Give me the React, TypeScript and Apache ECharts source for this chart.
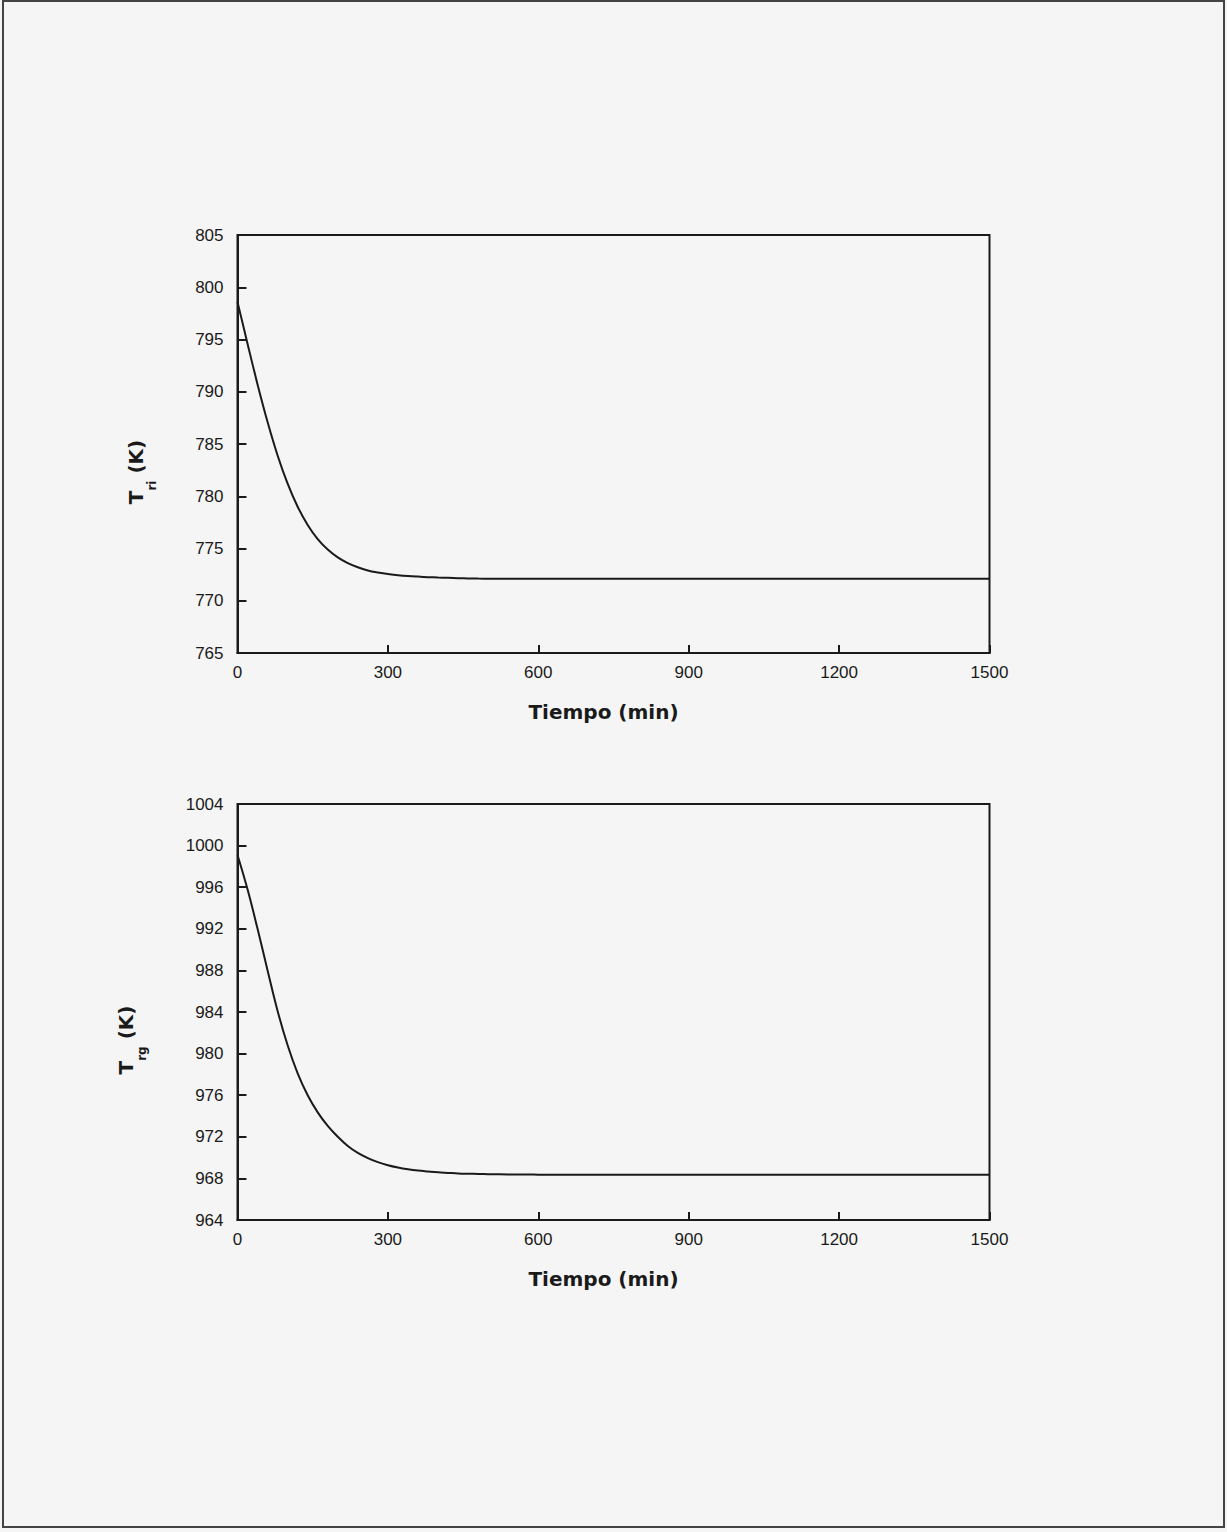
import React, { useEffect, useRef } from "react";
import * as echarts from "echarts";

// Time (min)
const timeMin = [
  0, 20, 40, 60, 80, 100, 120, 140, 160, 180, 200, 220, 240, 260, 280, 300,
  320, 340, 360, 380, 400, 420, 440, 460, 480, 500, 520, 540, 560, 580, 600,
  700, 800, 900, 1000, 1100, 1200, 1300, 1400, 1500,
];

// Riser temperature T_ri (K)
const tRiser = [
  798.6, 794.6, 790.7, 787.1, 783.9, 781.2, 779.0, 777.25, 775.9, 774.9, 774.15,
  773.6, 773.2, 772.9, 772.7, 772.55, 772.45, 772.37, 772.31, 772.26, 772.22,
  772.19, 772.16, 772.14, 772.12, 772.11, 772.1, 772.1, 772.1, 772.1, 772.1,
  772.1, 772.1, 772.1, 772.1, 772.1, 772.1, 772.1, 772.1, 772.1,
];

// Regenerator temperature T_rg (K)
const tRegen = [
  999.1, 995.8, 992.0, 988.0, 984.1, 980.8, 978.1, 976.0, 974.35, 973.05, 972.0,
  971.12, 970.45, 969.95, 969.56, 969.27, 969.05, 968.88, 968.75, 968.66, 968.58,
  968.53, 968.48, 968.45, 968.43, 968.41, 968.39, 968.38, 968.38, 968.37, 968.36,
  968.35, 968.35, 968.35, 968.35, 968.35, 968.35, 968.35, 968.35, 968.35,
];

const xTitle = "Tiempo (min)";
const y1Title = "{t|T}{s|ri}{t| (K)}";
const y2Title = "{t|T}{s|rg}{t| (K)}";

const INK = "#1a1a1a";
const TICK_FONT = "Liberation Sans";
const NAME_FONT = "DejaVu Sans";

const plain = (v: number) => String(v);

function xAxisFor(gridIndex: number) {
  return {
    gridIndex,
    type: "value",
    min: 0,
    max: 1500,
    interval: 300,
    name: xTitle,
    nameLocation: "middle",
    nameGap: 49,
    nameTextStyle: {
      fontFamily: NAME_FONT,
      fontWeight: "bold",
      fontSize: 20,
      color: INK,
      padding: [0, 20, 0, 0],
    },
    axisLine: { show: true, lineStyle: { color: INK, width: 2 } },
    axisTick: { show: true, inside: true, length: 8, lineStyle: { color: INK, width: 2 } },
    axisLabel: { margin: 11, fontFamily: TICK_FONT, fontSize: 17, color: INK, formatter: plain },
    splitLine: { show: false },
  };
}

function yAxisFor(gridIndex: number, min: number, max: number, interval: number, name: string, nameGap: number) {
  return {
    gridIndex,
    type: "value",
    min,
    max,
    interval,
    name,
    nameLocation: "middle",
    nameRotate: 90,
    nameGap,
    nameTextStyle: {
      color: INK,
      padding: [0, 56, 0, 0],
      rich: {
        t: {
          fontFamily: NAME_FONT,
          fontWeight: "bold",
          fontSize: 20,
          color: INK,
          verticalAlign: "bottom",
          padding: [0, 0, 12, 0],
        },
        s: {
          fontFamily: NAME_FONT,
          fontWeight: "bold",
          fontSize: 12,
          color: INK,
          verticalAlign: "bottom",
        },
      },
    },
    axisLine: { show: true, lineStyle: { color: INK, width: 2 } },
    axisTick: { show: true, inside: true, length: 9, lineStyle: { color: INK, width: 2 } },
    axisLabel: { margin: 14, fontFamily: TICK_FONT, fontSize: 17, color: INK, formatter: plain },
    splitLine: { show: false },
  };
}

export default function App() {
  const ref = useRef<HTMLDivElement>(null);

  useEffect(() => {
    if (!ref.current) return;
    const chart = echarts.init(ref.current, undefined, { renderer: "svg" });
    const option = {
      animation: false,
      backgroundColor: "#f5f5f5",
      grid: [
        { left: 237.5, top: 235, width: 752, height: 418, show: true, borderColor: INK, borderWidth: 2, backgroundColor: "transparent" },
        { left: 237.5, top: 804, width: 752, height: 416, show: true, borderColor: INK, borderWidth: 2, backgroundColor: "transparent" },
      ],
      xAxis: [xAxisFor(0), xAxisFor(1)],
      yAxis: [
        yAxisFor(0, 765, 805, 5, y1Title, 80),
        yAxisFor(1, 964, 1004, 4, y2Title, 90),
      ],
      series: [
        {
          type: "line",
          xAxisIndex: 0,
          yAxisIndex: 0,
          data: timeMin.map((t, i) => [t, tRiser[i]]),
          showSymbol: false,
          smooth: 0.4,
          lineStyle: { color: INK, width: 2 },
        },
        {
          type: "line",
          xAxisIndex: 1,
          yAxisIndex: 1,
          data: timeMin.map((t, i) => [t, tRegen[i]]),
          showSymbol: false,
          smooth: 0.4,
          lineStyle: { color: INK, width: 2 },
        },
      ],
      graphic: [
        {
          type: "rect",
          shape: { x: 3, y: 1, width: 1221, height: 1526 },
          style: { fill: "none", stroke: "#444", lineWidth: 2 },
          silent: true,
        },
      ],
    };
    chart.setOption(option as any);
    return () => chart.dispose();
  }, []);

  return (
    <div
      ref={ref}
      style={{ position: "absolute", left: 0, top: 0, width: 1227, height: 1532, background: "#f5f5f5" }}
    />
  );
}
